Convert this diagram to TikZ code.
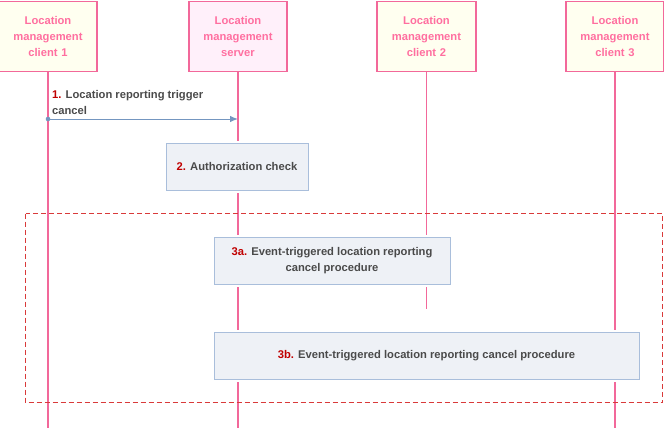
\documentclass[tikz,border=0pt]{standalone}
\usepackage{fontspec}
\setmainfont{Liberation Sans}
\usepackage{tikz}
\usetikzlibrary{positioning,arrows.meta}
\definecolor{lmpink}{HTML}{F2689A}
\definecolor{lmtext}{HTML}{FF6FA0}
\definecolor{clientfill}{HTML}{FFFFF0}
\definecolor{serverfill}{HTML}{FFF0FA}
\definecolor{procfill}{HTML}{EEF1F6}
\definecolor{procline}{HTML}{A9BEDB}
\definecolor{stepred}{HTML}{C00000}
\definecolor{msgtext}{HTML}{4A4A4A}
\definecolor{msgline}{HTML}{7496C0}
\definecolor{groupline}{HTML}{D93A3A}
\newcommand{\stepno}[1]{\textcolor{stepred}{#1}}

\begin{document}
\begin{tikzpicture}[x=1pt,y=-1pt,
font=\fontsize{11.2}{16}\selectfont\bfseries,
actor/.style={draw=lmpink,line width=1.8pt,minimum width=93pt,minimum height=70pt,text width=92pt,align=center,text=lmtext},
lifeline/.style={draw=lmpink,line width=1.5pt},
procbox/.style={draw=procline,fill=procfill,line width=1pt,align=center,text=msgtext,
  preaction={draw=white,line width=5pt}},
msg/.style={draw=msgline,line width=1pt,-{Latex[length=8pt,width=6.5pt]}},
group/.style={draw=groupline,line width=1.1pt,dash pattern=on 5pt off 3pt}]
\useasboundingbox (0,0) rectangle (664,428);
% participants
\node (client1) [actor,fill=clientfill] at (48,36.5) {Location\\management\\client 1};
\node (server) [actor,fill=serverfill] at (238,36.5) {Location\\management\\server};
\node (client2) [actor,fill=clientfill] at (426.5,36.5) {Location\\management\\client 2};
\node (client3) [actor,fill=clientfill] at (615,36.5) {Location\\management\\client 3};
\coordinate (client1end) at (48,428);
\coordinate (serverend) at (238,428);
\coordinate (client2end) at (426.5,309);
\coordinate (client3end) at (615,428);
\draw [lifeline] (client1) -- (client1end);
\draw [lifeline] (server) -- (serverend);
\draw [lifeline] (client2) -- (client2end);
\draw [lifeline] (client3) -- (client3end);
% step 1
\coordinate (m1from) at (48,119);
\coordinate (m1to) at (238,119);
\draw [msg] (m1from) -- (m1to);
\fill [msgline] (m1from) circle (2.3pt);
\node (m1label) [anchor=south west,align=left,text=msgtext,inner sep=0pt] at (52,115)
  {\stepno{1.} Location reporting trigger\\cancel};
% step 2
\node (authcheck) [procbox,minimum width=142pt,minimum height=47pt] at (237,166.5)
  {\stepno{2.} Authorization check};
% step 3
\coordinate (groupnw) at (25.5,213.5);
\coordinate (groupse) at (662.5,402.5);
\draw [group] (groupnw) rectangle (groupse);
\node (proc3a) [procbox,minimum width=236pt,minimum height=47pt] at (332,260.5)
  {\stepno{3a.} Event-triggered location reporting\\cancel procedure};
\node (proc3b) [procbox,minimum width=425pt,minimum height=47pt] at (426.5,355.5)
  {\stepno{3b.} Event-triggered location reporting cancel procedure};
\end{tikzpicture}
\end{document}
